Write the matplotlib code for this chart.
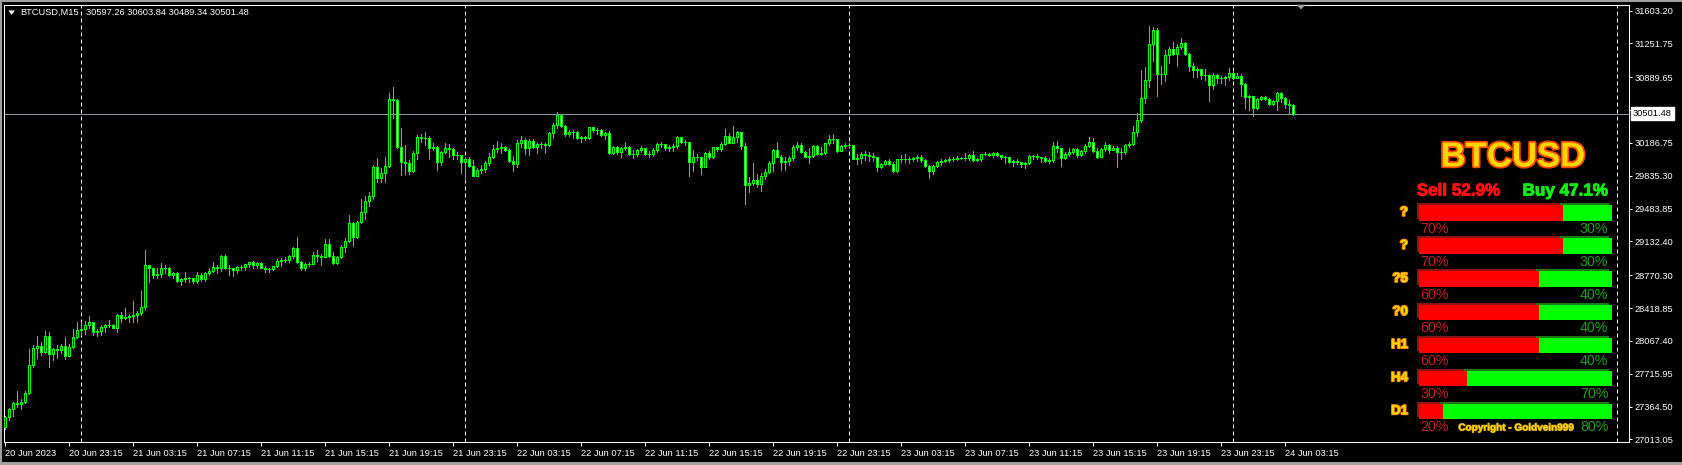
import matplotlib
matplotlib.use("Agg")
import matplotlib.pyplot as plt
from matplotlib.patches import Rectangle, Polygon
import matplotlib.patheffects as pe
import numpy as np

plt.rcParams['font.family'] = ['Liberation Sans', 'DejaVu Sans']

# ---------------- data ----------------
symbol = "BTCUSD,M15"
last_ohlc = "30597.26 30603.84 30489.34 30501.48"
bid_price = 30501.48
first_open = 27150

closes = [
 27250,27334,27399,27392,27413,27506,27809,27987,28016,27952,28116,27923,27977,27970,28012,27909,28005,28109,28180,28191,
 28237,28269,28159,28177,28216,28241,28237,28209,28344,28316,28327,28330,28344,28366,28430,28880,28844,28773,28787,28844,
 28844,28773,28791,28708,28730,28737,28737,28708,28773,28726,28791,28815,28862,28844,28976,28844,28851,28823,28858,28858,
 28887,28908,28880,28898,28851,28833,28837,28865,28923,28933,28937,28973,29058,28908,28844,28887,28894,28987,28980,28969,
 29105,28980,28898,28962,29069,29137,29326,29183,29337,29444,29565,29619,29926,29815,29861,29940,30657,30647,30147,29986,
 29972,29890,30076,30250,30243,30243,30136,30140,29979,30093,30129,30126,30058,30058,29986,30011,29944,29836,29897,29904,
 29976,30036,30122,30136,30143,30111,29997,29958,30183,30215,30136,30208,30147,30176,30172,30165,30290,30379,30486,30372,
 30283,30300,30308,30243,30250,30236,30358,30322,30322,30272,30290,30083,30143,30093,30129,30140,30065,30065,30108,30129,
 30065,30068,30108,30172,30176,30129,30143,30154,30247,30201,30197,29986,30040,30040,29933,30076,30040,30140,30122,30176,
 30261,30190,30247,30300,30158,29737,29754,29790,29744,29833,29876,29976,30111,30040,29986,29993,30022,30140,30161,30093,
 30040,30047,30158,30068,30079,30183,30229,30226,30104,30154,30165,30161,30015,30022,30068,30061,30047,30040,29933,29958,
 29997,29961,29890,30011,30018,30018,30018,30022,30040,30004,29944,29890,29940,29983,29990,30001,30011,30018,30026,30029,
 30029,30058,30004,30015,30065,30072,30061,30076,30054,30036,30033,29986,29990,29986,29965,29976,30044,30044,30033,30029,
 29997,30008,30154,30129,30029,30065,30090,30122,30054,30104,30154,30197,30101,30040,30118,30165,30115,30136,30086,30094,
 30165,30179,30308,30433,30664,30861,31246,31396,30925,30929,31128,31193,31136,31218,31253,31139,31014,30968,30975,30914,
 30914,30807,30914,30879,30886,30889,30932,30886,30907,30818,30682,30689,30557,30657,30675,30657,30600,30636,30718,30672,
 30600,30597.26,30501.48]

highs = [
 27265,27345,27416,27531,27445,27534,27980,28023,28120,28052,28173,28162,27987,28023,28034,28109,28034,28195,28266,28273,
 28280,28337,28273,28195,28237,28252,28287,28252,28352,28373,28416,28352,28494,28387,28601,29040,28880,28851,28851,28901,
 28880,28862,28808,28801,28737,28801,28755,28730,28808,28791,28808,28844,28915,28880,28987,28998,28880,28851,28873,28880,
 28890,28915,28923,28908,28915,28873,28851,28873,28940,28951,28969,28987,29076,29183,28923,28898,28908,29015,29040,28994,
 29155,29158,29015,28976,29094,29165,29415,29344,29351,29587,29619,29665,29951,30022,29915,30036,30718,30782,30657,30350,
 30165,30004,30101,30272,30279,30308,30261,30183,30158,30101,30183,30172,30129,30093,30058,30040,30040,30004,29915,29951,
 29994,30076,30165,30208,30183,30158,30129,30047,30218,30261,30236,30226,30229,30183,30193,30183,30300,30397,30522,30493,
 30379,30325,30325,30315,30265,30265,30361,30361,30350,30336,30308,30315,30158,30151,30147,30193,30154,30111,30122,30158,
 30136,30101,30136,30190,30200,30179,30165,30172,30261,30254,30218,30193,30111,30065,30040,30086,30104,30147,30147,30201,
 30336,30297,30368,30318,30308,30183,29826,29976,29854,29861,29904,29997,30118,30197,30058,30040,30047,30165,30201,30183,
 30104,30129,30168,30168,30140,30190,30272,30283,30226,30168,30183,30183,30154,30068,30093,30104,30093,30076,30040,29976,
 30004,30011,29986,30018,30058,30068,30040,30040,30058,30058,30018,29951,29947,29990,30011,30018,30033,30040,30044,30040,
 30076,30065,30104,30026,30072,30090,30076,30086,30090,30061,30047,30040,30001,30015,29983,29986,30054,30058,30068,30040,
 30051,30022,30193,30208,30136,30094,30129,30136,30129,30111,30172,30254,30236,30136,30136,30201,30179,30158,30151,30129,
 30172,30193,30372,30504,30968,31004,31439,31425,31414,31014,31182,31218,31264,31243,31307,31264,31146,31046,31004,30975,
 30979,30921,30932,30921,30907,30904,30993,30950,30932,30921,30832,30700,30664,30672,30689,30689,30664,30647,30729,30736,
 30682,30647,30603.84]

lows = [
 27120,27215,27267,27363,27338,27399,27498,27791,27880,27916,27938,27791,27863,27888,27934,27873,27902,27987,28102,28130,
 28137,28209,28130,28123,28130,28159,28220,28202,28166,28266,28302,28273,28273,28273,28344,28398,28694,28737,28744,28755,
 28791,28766,28744,28694,28666,28694,28694,28683,28687,28708,28708,28773,28808,28791,28815,28837,28773,28766,28791,28826,
 28826,28862,28851,28844,28844,28808,28801,28823,28858,28873,28908,28908,28958,28898,28826,28826,28873,28887,28923,28880,
 28962,28969,28890,28887,28951,29016,29123,29087,29166,29326,29372,29515,29587,29765,29772,29772,29933,30457,30136,29844,
 29851,29851,29879,30015,30200,30165,30015,30111,29897,29951,30076,30040,30015,30015,29869,29790,29933,29833,29833,29861,
 29879,29951,30022,30086,30083,30101,29986,29886,29933,30147,30068,30058,30136,30076,30129,30076,30158,30236,30350,30361,
 30265,30265,30236,30229,30200,30218,30226,30300,30279,30265,30229,30065,30065,30072,30040,30111,30058,30022,30051,30086,
 30058,30040,30051,30093,30147,30111,30101,30101,30129,30190,30165,29836,29886,30004,29854,29926,30015,30022,30097,30104,
 30165,30183,30190,30201,30122,29533,29665,29737,29712,29676,29797,29861,29890,30033,29897,29897,29951,30004,30111,30076,
 30033,29976,30033,30058,30058,30068,30165,30183,30093,30097,30129,30147,30011,29961,29968,30004,29997,29994,29890,29915,
 29947,29947,29879,29879,29986,29986,29976,29997,29997,29986,29933,29808,29854,29926,29951,29979,29986,29997,30004,30011,
 30004,30004,29997,29997,29997,30054,30047,30040,30044,30011,29976,29976,29944,29961,29933,29922,29958,30015,30015,29986,
 29986,29976,29986,30093,29944,30015,30051,30069,30040,30047,30083,30140,30093,30022,30033,30101,30083,30111,29933,30015,
 30065,30147,30165,30265,30408,30611,30789,31064,30689,30821,30854,31039,31128,31014,31193,31128,30957,30896,30896,30872,
 30861,30636,30764,30825,30832,30807,30861,30872,30879,30693,30565,30540,30479,30550,30643,30643,30593,30593,30540,30622,
 30565,30504,30489.34]

time_labels = ["20 Jun 2023", "20 Jun 23:15", "21 Jun 03:15", "21 Jun 07:15", "21 Jun 11:15",
               "21 Jun 15:15", "21 Jun 19:15", "21 Jun 23:15", "22 Jun 03:15", "22 Jun 07:15",
               "22 Jun 11:15", "22 Jun 15:15", "22 Jun 19:15", "22 Jun 23:15", "23 Jun 03:15",
               "23 Jun 07:15", "23 Jun 11:15", "23 Jun 15:15", "23 Jun 19:15", "23 Jun 23:15",
               "24 Jun 03:15"]
label_bars = [0, 16, 32, 48, 64, 80, 96, 112, 128, 144, 160, 176, 192, 208, 224, 240,
              256, 272, 288, 304, 320]
day_separator_bars = [19, 115, 211, 307, 403]
price_ticks = [31603.20, 31251.75, 30889.65, 30538.20, 30186.75, 29835.30, 29483.85,
               29132.40, 28770.30, 28418.85, 28067.40, 27715.95, 27364.50, 27013.05]

panel_title = "BTCUSD"
sell_total = 52.9
buy_total = 47.1
tf_labels = ["?", "?", "?5", "?0", "H1", "H4", "D1"]
sell_pct = [70, 70, 60, 60, 60, 30, 20]
buy_pct = [30, 30, 40, 40, 40, 70, 80]
copyright_text = "Copyright - Goldvein999"

# ---------------- figure ----------------
W, H = 1682, 465
PX = 0.72  # one pixel in points at dpi 100
fig = plt.figure(figsize=(W / 100, H / 100), dpi=100, facecolor='black')
ax = fig.add_axes([4.3 / W, (H - 442.3) / H, (1629.3 - 4.3) / W, (442.3 - 4.7) / H])
ax.set_facecolor('black')

x = np.arange(len(closes))
c = np.array(closes, dtype=float)
o = np.concatenate([[first_open], c[:-1]])
hi = np.maximum(np.array(highs, dtype=float), np.maximum(o, c))
lo = np.minimum(np.array(lows, dtype=float), np.minimum(o, c))

LIME = '#00ff00'
for b in day_separator_bars:
    ax.axvline(b, color='white', lw=PX, ls=(0, (4, 3)), zorder=1)
ax.axhline(bid_price, color='#8a96a3', lw=PX, zorder=2)

ax.vlines(x, lo, hi, color=LIME, lw=PX, zorder=3, antialiased=False)
fills = np.where(c >= o, 'black', 'white')
ax.bar(x, c - o, bottom=o, width=0.5, color=fills, edgecolor=LIME,
       linewidth=PX, zorder=4, antialiased=False)

ax.set_xlim(-0.25, 406.0)
ax.set_ylim(26981.3, 31667.1)

ax.set_xticks(label_bars)
ax.set_xticklabels(time_labels)
for lbl in ax.get_xticklabels():
    lbl.set_ha('left')
ax.tick_params(axis='x', colors='white', length=4 * PX, width=PX, pad=2.2, labelsize=6.7)
ax.yaxis.tick_right()
ax.set_yticks(price_ticks)
ax.set_yticklabels([f"{v:.2f}" for v in price_ticks])
ax.tick_params(axis='y', colors='white', length=3 * PX, width=PX, pad=1.5, labelsize=6.7)
for s in ax.spines.values():
    s.set_color('white')
    s.set_linewidth(PX)

ax.annotate(f"{bid_price:.2f}", xy=(1, bid_price), xycoords=('axes fraction', 'data'),
            xytext=(2.6, 0), textcoords='offset points', ha='left', va='center',
            fontsize=6.7, color='black', zorder=10, annotation_clip=False,
            bbox=dict(boxstyle='square,pad=0.22', fc='white', ec='white'))

# ---------------- overlay (pixel coordinates) ----------------
ov = fig.add_axes([0, 0, 1, 1])
ov.set_xlim(0, W)
ov.set_ylim(H, 0)
ov.axis('off')
ov.patch.set_alpha(0)

GRAY = '#a0a0a0'
ov.add_patch(Rectangle((0, 0), W, 2.3, color=GRAY, lw=0))
ov.add_patch(Rectangle((0, 0), 2.5, H, color=GRAY, lw=0))
ov.add_patch(Rectangle((0, 462), W, 3, color=GRAY, lw=0))

# header
ov.add_patch(Polygon([(8.3, 10.5), (15.0, 10.5), (11.65, 14.8)], closed=True, color='white', lw=0))
ov.text(20.7, 12.7, symbol, color='white', fontsize=6.7, ha='left', va='center')
ov.text(86.0, 12.7, last_ohlc, color='white', fontsize=6.7, ha='left', va='center')
# chart shift marker
ov.add_patch(Polygon([(1296.5, 4.7), (1305.5, 4.7), (1301, 9.5)], closed=True, color=GRAY, lw=0))

# panel
ov.text(1513, 157, panel_title, color='#ffd700', fontsize=25, fontweight='bold',
        ha='center', va='center',
        path_effects=[pe.withStroke(linewidth=2.5, foreground='#ff4500')])
ov.text(1416.7, 191, f"Sell {sell_total:.1f}%", color='#ff1010', fontsize=12.3, fontweight='bold',
        ha='left', va='center', path_effects=[pe.withStroke(linewidth=0.7, foreground='#ff1010')])
ov.text(1608.3, 191, f"Buy {buy_total:.1f}%", color='#10ee10', fontsize=12.3, fontweight='bold',
        ha='right', va='center', path_effects=[pe.withStroke(linewidth=0.7, foreground='#10ee10')])

x_left, x_right = 1419.0, 1611.7
for k in range(len(sell_pct)):
    top = 203.3 + 33.07 * k
    split = 1394.7 + sell_pct[k] * 2.4
    # shadow
    ov.add_patch(Rectangle((x_left - 2.3, top), split - x_left, 15.7, color='#8c1414', lw=0))
    ov.add_patch(Rectangle((split - 2.3, top), x_right - split, 15.7, color='#1a7a1a', lw=0))
    # bars
    ov.add_patch(Rectangle((x_left, top + 2), split - x_left, 15.7, color='#ff0000', lw=0))
    ov.add_patch(Rectangle((split, top + 2), x_right - split, 15.7, color='#00ff00', lw=0))
    ov.text(1408, top + 9.5, tf_labels[k], color='#ffd700', fontsize=9.5, fontweight='bold',
            ha='right', va='center',
            path_effects=[pe.withStroke(linewidth=1.4, foreground='#ff8c00')])
    ov.text(1420.7, top + 25.4, f"{sell_pct[k]}%", color='#c81e1e', fontsize=10.3,
            ha='left', va='center')
    ov.text(1608.3, top + 25.4, f"{buy_pct[k]}%", color='#1ea01e', fontsize=10.3,
            ha='right', va='center')

ov.text(1458.3, 427.5, copyright_text, color='#ffd700', fontsize=7.2, fontweight='bold',
        ha='left', va='center',
        path_effects=[pe.withStroke(linewidth=0.8, foreground='#b8900b')])

fig.savefig("out.png", dpi=100, facecolor='black')
